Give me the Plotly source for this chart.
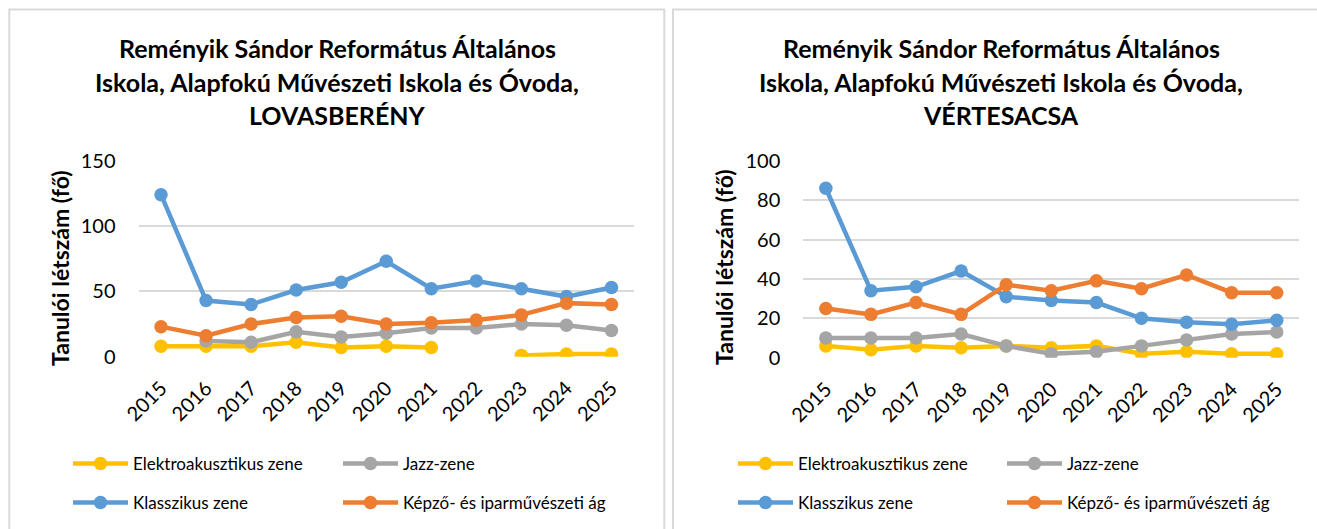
import plotly.graph_objects as go

W, H = 1317, 529

years = ["2015", "2016", "2017", "2018", "2019", "2020", "2021", "2022", "2023", "2024", "2025"]

series_names = ["Elektroakusztikus zene", "Jazz-zene", "Klasszikus zene", "Képző- és iparművészeti ág"]
series_colors = ["#FFC000", "#A5A5A5", "#5B9BD5", "#ED7D31"]

# LOVASBERÉNY
lov_elektro = [8, 8, 8, 11, 7, 8, 7, None, 1, 2, 2]
lov_jazz = [None, 12, 11, 19, 15, 18, 22, 22, 25, 24, 20]
lov_klasszikus = [124, 43, 40, 51, 57, 73, 52, 58, 52, 46, 53]
lov_kepzo = [23, 16, 25, 30, 31, 25, 26, 28, 32, 41, 40]

# VÉRTESACSA
ver_elektro = [6, 4, 6, 5, 6, 5, 6, 2, 3, 2, 2]
ver_jazz = [10, 10, 10, 12, 6, 2, 3, 6, 9, 12, 13]
ver_klasszikus = [86, 34, 36, 44, 31, 29, 28, 20, 18, 17, 19]
ver_kepzo = [25, 22, 28, 22, 37, 34, 39, 35, 42, 33, 33]

lov_ticks = [0, 50, 100, 150]
ver_ticks = [0, 20, 40, 60, 80, 100]

title_lines_common = ["Reményik Sándor Református Általános",
                      "Iskola, Alapfokú Művészeti Iskola és Óvoda,"]
lov_place = "LOVASBERÉNY"
ver_place = "VÉRTESACSA"
y_title = "Tanulói létszám (fő)"

FONT = "Lato"


def px(x):
    return x / W


def py(y):
    return (H - y) / H


fig = go.Figure()

panels = [
    dict(xa="x", ya="y", data=[lov_elektro, lov_jazz, lov_klasszikus, lov_kepzo], leg0=1),
    dict(xa="x2", ya="y2", data=[ver_elektro, ver_jazz, ver_klasszikus, ver_kepzo], leg0=5),
]

for p in panels:
    for i, (name, col, vals) in enumerate(zip(series_names, series_colors, p["data"])):
        ln = p["leg0"] + i
        fig.add_trace(go.Scatter(
            x=years, y=vals, name=name, mode="lines+markers",
            line=dict(color=col, width=4.5),
            marker=dict(color=col, size=13.5),
            xaxis=p["xa"], yaxis=p["ya"],
            legend="legend" if ln == 1 else f"legend{ln}",
            showlegend=True,
            connectgaps=False, hoverinfo="x+y+name",
        ))

axis_font = dict(family=FONT, size=20, color="#000000")
xcommon = dict(type="category", range=[-0.5, 10.5], tickangle=-45, showgrid=False,
               showline=False, zeroline=False, ticks="", tickfont=axis_font,
               ticklabelstandoff=15, automargin=False)
ycommon = dict(showgrid=True, gridcolor="#D9D9D9", gridwidth=1.5, zeroline=False,
               showline=False, ticks="", tickfont=axis_font, ticklabelstandoff=22,
               automargin=False)

# legend positions (line start x, row y) per legend index
leg_pos = {
    1: (73, 464), 2: (343, 464), 3: (73, 503), 4: (343, 503),
    5: (738, 464), 6: (1007, 464), 7: (738, 503), 8: (1007, 503),
}

layout = dict(
    width=W, height=H, margin=dict(l=0, r=0, t=0, b=0, autoexpand=False),
    paper_bgcolor="white", plot_bgcolor="white",
    showlegend=True,
    font=dict(family=FONT, color="#000000"),
    xaxis=dict(domain=[px(138.5), px(634)], anchor="y", **xcommon),
    yaxis=dict(domain=[py(356.7), py(160.7)], anchor="x", range=[0, 150],
               tickvals=lov_ticks, **ycommon),
    xaxis2=dict(domain=[px(803.3), px(1299.3)], anchor="y2", **xcommon),
    yaxis2=dict(domain=[py(357.7), py(160.7)], anchor="x2", range=[0, 100],
                tickvals=ver_ticks, **ycommon),
    hovermode="closest",
)

for k, (lx, ly) in leg_pos.items():
    key = "legend" if k == 1 else f"legend{k}"
    layout[key] = dict(x=px(lx - 5), y=py(ly), xanchor="left", yanchor="middle",
                       xref="paper", yref="paper", visible=True,
                       orientation="h", bgcolor="rgba(0,0,0,0)", borderwidth=0,
                       itemwidth=55, font=dict(family=FONT, size=17, color="#000000"),
                       tracegroupgap=0)

fig.update_layout(**layout)

# panel borders
shapes = [
    dict(type="rect", xref="paper", yref="paper", x0=px(9.3), x1=px(664.3), y0=-0.1, y1=py(9.5),
         line=dict(color="#D9D9D9", width=2), fillcolor="rgba(0,0,0,0)", layer="below"),
    dict(type="rect", xref="paper", yref="paper", x0=px(673), x1=1.1, y0=-0.1, y1=py(9.5),
         line=dict(color="#D9D9D9", width=2), fillcolor="rgba(0,0,0,0)", layer="below"),
]
fig.update_layout(shapes=shapes)

annotations = []
title_ys = [48, 82, 115]
for cx, place in [(337, lov_place), (1001, ver_place)]:
    for line_text, ty in zip(title_lines_common + [place], title_ys):
        annotations.append(dict(text=f"<b>{line_text}</b>", x=px(cx), y=py(ty), xref="paper", yref="paper",
                                xanchor="center", yanchor="middle", showarrow=False,
                                font=dict(family=FONT, size=25, color="#000000")))
for cx, cy in [(60, 268), (724, 267)]:
    annotations.append(dict(text=f"<b>{y_title}</b>", x=px(cx), y=py(cy), xref="paper", yref="paper",
                            xanchor="center", yanchor="middle", showarrow=False, textangle=-90,
                            font=dict(family=FONT, size=23, color="#000000")))
fig.update_layout(annotations=annotations)

fig.write_html("out.html", config={"displayModeBar": False},
               post_script="document.body.style.margin='0';document.body.style.overflow='hidden';")
